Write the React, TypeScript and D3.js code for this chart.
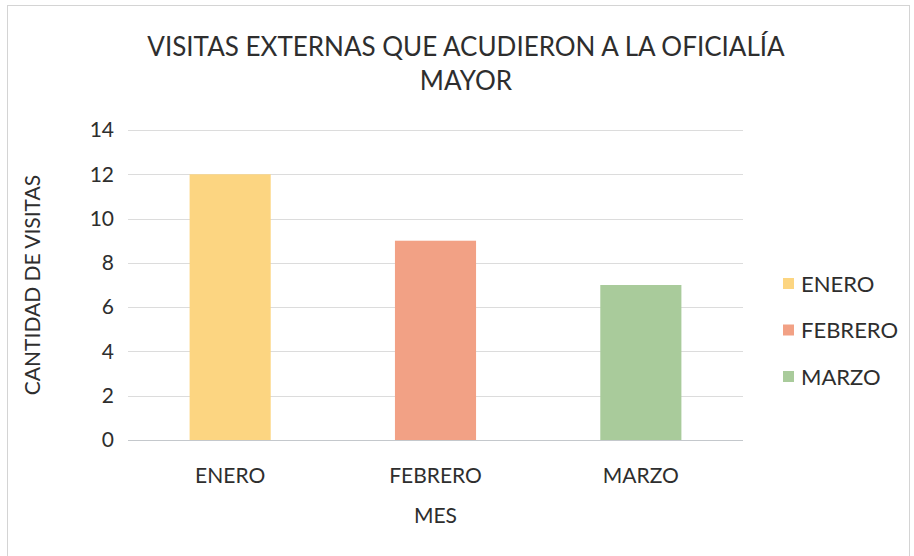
import * as d3 from 'd3';

const MONTHS = ['ENERO', 'FEBRERO', 'MARZO'];
const VISITS = [12, 9, 7];
const COLORS = ['#fcd581', '#f2a185', '#a9cb9b'];
const Y_TICKS = [0, 2, 4, 6, 8, 10, 12, 14];

const TITLE_LINES = ['VISITAS EXTERNAS QUE ACUDIERON A LA OFICIALÍA', 'MAYOR'];
const Y_TITLE = 'CANTIDAD DE VISITAS';
const X_TITLE = 'MES';

const FONT = 'Lato, "Open Sans", sans-serif';
const TEXT = '#2e2e2e';

export default function App() {
  const width = 914;
  const height = 556;
  const plot = { left: 128, right: 743, top: 130, bottom: 440 };

  const x = d3
    .scaleBand<string>()
    .domain(MONTHS)
    .range([plot.left, plot.right])
    .paddingInner(0.605)
    .paddingOuter(0.3);

  const y = d3.scaleLinear().domain([0, 14]).range([plot.bottom, plot.top]);

  return (
    <div style={{ position: 'fixed', left: 0, top: 0 }}>
      <svg width={width} height={height} style={{ display: 'block', background: '#fff' }} fontFamily={FONT}>
        <rect x={7.5} y={5.5} width={902} height={560} fill="none" stroke="#d4d4d4" />

        {TITLE_LINES.map((line, i) => (
          <text key={line} x={466} y={56 + i * 34} textAnchor="middle" fontSize={26} fill={TEXT}>
            {line}
          </text>
        ))}

        {Y_TICKS.map((t) => (
          <g key={t}>
            <line
              x1={plot.left}
              x2={plot.right}
              y1={Math.round(y(t)) + 0.5}
              y2={Math.round(y(t)) + 0.5}
              stroke={t === 0 ? '#c4c8cc' : '#dcdcdc'}
              strokeWidth={1}
            />
            <text x={114} y={y(t)} dy="0.35em" textAnchor="end" fontSize={21} fill={TEXT}>
              {t}
            </text>
          </g>
        ))}

        {MONTHS.map((m, i) => (
          <rect
            key={m}
            x={x(m)}
            y={y(VISITS[i])}
            width={x.bandwidth()}
            height={y(0) - y(VISITS[i])}
            fill={COLORS[i]}
          />
        ))}

        {MONTHS.map((m) => (
          <text key={m} x={(x(m) ?? 0) + x.bandwidth() / 2} y={483} textAnchor="middle" fontSize={21} fill={TEXT}>
            {m}
          </text>
        ))}

        <text x={(plot.left + plot.right) / 2} y={523} textAnchor="middle" fontSize={21} fill={TEXT}>
          {X_TITLE}
        </text>

        <text
          transform={`translate(40, ${(plot.top + plot.bottom) / 2}) rotate(-90)`}
          textAnchor="middle"
          fontSize={21}
          fill={TEXT}
        >
          {Y_TITLE}
        </text>

        {MONTHS.map((m, i) => (
          <g key={m} transform={`translate(783, ${284 + i * 46.5})`}>
            <rect x={0} y={-6} width={11} height={11} fill={COLORS[i]} />
            <text x={18} y={0} dy="0.35em" fontSize={22} fill={TEXT}>
              {m}
            </text>
          </g>
        ))}
      </svg>
    </div>
  );
}
